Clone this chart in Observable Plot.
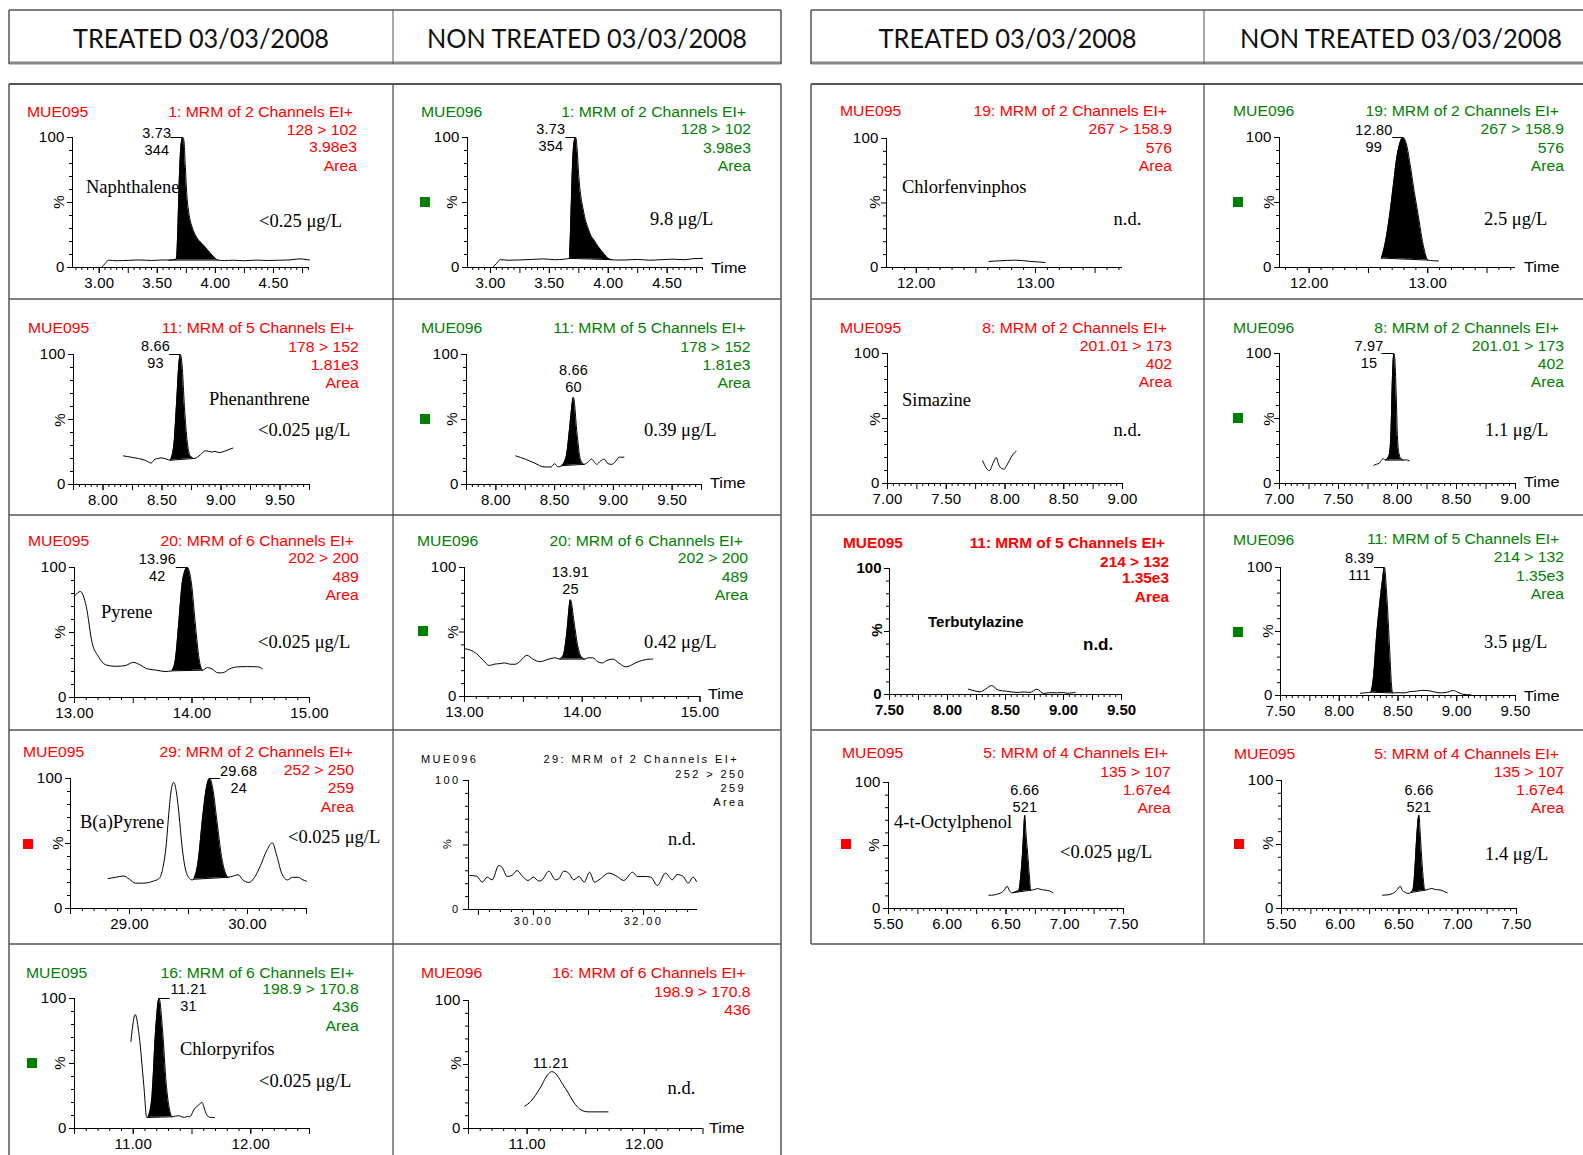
<!DOCTYPE html>
<html><head><meta charset="utf-8">
<script src="https://cdn.jsdelivr.net/npm/d3@7"></script>
<script src="https://cdn.jsdelivr.net/npm/@observablehq/plot@0.6"></script>
<style>
html,body{margin:0;padding:0;background:#fff;}
#page{position:relative;width:1583px;height:1155px;overflow:hidden;background:#fff;}
</style></head>
<body><div id="page"></div>
<script>
// ---------------- DATA ----------------
const headerTitles = ["TREATED 03/03/2008", "NON TREATED 03/03/2008", "TREATED 03/03/2008", "NON TREATED 03/03/2008"];
const compoundNames = ["Naphthalene","Phenanthrene","Pyrene","B(a)Pyrene","Chlorpyrifos","Chlorfenvinphos","Simazine","Terbutylazine","4-t-Octylphenol"];
const resultsTreated = ["<0.25 μg/L","<0.025 μg/L","<0.025 μg/L","<0.025 μg/L","<0.025 μg/L","n.d.","n.d.","n.d.","<0.025 μg/L"];
const resultsNonTreated = ["9.8 μg/L","0.39 μg/L","0.42 μg/L","n.d.","n.d.","2.5 μg/L","1.1 μg/L","3.5 μg/L","1.4 μg/L"];
const channelHeaders = [
  ["1: MRM of 2 Channels EI+","128 > 102","3.98e3","Area"],
  ["11: MRM of 5 Channels EI+","178 > 152","1.81e3","Area"],
  ["20: MRM of 6 Channels EI+","202 > 200","489","Area"],
  ["29: MRM of 2 Channels EI+","252 > 250","259","Area"],
  ["16: MRM of 6 Channels EI+","198.9 > 170.8","436","Area"],
  ["19: MRM of 2 Channels EI+","267 > 158.9","576","Area"],
  ["8: MRM of 2 Channels EI+","201.01 > 173","402","Area"],
  ["11: MRM of 5 Channels EI+","214 > 132","1.35e3","Area"],
  ["5: MRM of 4 Channels EI+","135 > 107","1.67e4","Area"]
];
const sampleIds = ["MUE095","MUE096"];

// tick labels (retention time, min)
const ticksNaph = [3.00,3.50,4.00,4.50];
const ticksPhen = [8.00,8.50,9.00,9.50];
const ticksPyr  = [13.00,14.00,15.00];
const ticksBaPT = [29.00,30.00];
const ticksBaPN = [30.00,32.00];
const ticksChlp = [11.00,12.00];
const ticksCfv  = [12.00,13.00];
const ticksSim  = [7.00,7.50,8.00,8.50,9.00];
const ticksTerb = [7.50,8.00,8.50,9.00,9.50];
const ticksOct  = [5.50,6.00,6.50,7.00,7.50];

// traces: [time, % intensity]
const naphT = [[3.02,0],[3.05,3],[3.08,5.6],[3.15,5.2],[3.25,5.5],[3.35,5.8],[3.45,5.4],[3.55,5.8],[3.60,5.7],[3.64,6.0],[3.665,6.5],[3.675,25],[3.69,70],[3.705,95],[3.72,100],[3.73,97],[3.74,80],[3.755,55],[3.775,40],[3.80,31],[3.84,23],[3.90,17],[3.957,11],[4.0,7],[4.02,5.7],[4.08,5.3],[4.15,5.6],[4.25,5.2],[4.35,5.7],[4.45,5.4],[4.55,5.6],[4.65,5.9],[4.72,6.6],[4.78,6.2],[4.81,5.8]];
const naphN = [[3.02,0],[3.05,3],[3.085,6],[3.15,5.6],[3.25,5.8],[3.35,6.2],[3.45,6.6],[3.55,6],[3.62,6.4],[3.67,7],[3.68,30],[3.695,75],[3.71,97],[3.725,100],[3.735,92],[3.75,70],[3.765,56],[3.78,48],[3.805,37],[3.83,30],[3.85,25],[3.88,21],[3.915,16],[3.96,11],[4.0,7],[4.03,6],[4.08,5.7],[4.15,5.8],[4.25,6.2],[4.35,5.6],[4.45,6.0],[4.55,6.4],[4.65,6.0],[4.72,6.8],[4.80,7.0]];
const phenT = [[8.173,22],[8.24,21],[8.301,20],[8.36,18.5],[8.408,16.5],[8.44,19.5],[8.464,20],[8.50,20.5],[8.536,19.5],[8.571,18.7],[8.60,30],[8.625,65],[8.645,95],[8.656,100],[8.67,92],[8.69,60],[8.715,32],[8.74,22],[8.771,20],[8.80,21],[8.827,23],[8.869,26],[8.921,25],[8.95,25.5],[8.984,24.5],[9.027,25.5],[9.07,27],[9.10,28]];
const phenN = [[8.17,22],[8.25,19.5],[8.33,16.5],[8.41,13.5],[8.47,13.5],[8.50,16],[8.53,13.5],[8.56,14.5],[8.60,22],[8.63,45],[8.66,67],[8.69,40],[8.72,19],[8.75,15.5],[8.78,17],[8.815,19.5],[8.84,17],[8.857,15.5],[8.89,18],[8.922,19.5],[8.955,16],[8.986,15.5],[9.02,18],[9.05,21],[9.09,21]];
const pyrT = [[13.00,78],[13.05,81.5],[13.10,70],[13.15,42],[13.20,32],[13.27,25],[13.35,24],[13.43,24.5],[13.50,27],[13.56,25],[13.62,22],[13.70,21],[13.77,20],[13.83,20.5],[13.86,30],[13.89,60],[13.92,90],[13.96,100],[13.995,88],[14.03,55],[14.06,30],[14.09,21],[14.13,23],[14.17,22],[14.22,19],[14.26,19],[14.32,22],[14.39,23.6],[14.47,23.8],[14.56,23.6],[14.60,22]];
const pyrN = [[13.00,37],[13.05,36],[13.105,33],[13.16,28],[13.21,24],[13.25,25],[13.30,25.5],[13.34,26],[13.39,25],[13.43,25],[13.48,28],[13.53,32],[13.58,29],[13.64,27],[13.70,28.5],[13.77,30],[13.81,29],[13.84,32],[13.87,50],[13.90,75],[13.93,58],[13.96,40],[13.99,31],[14.02,29],[14.05,30],[14.09,30],[14.13,27],[14.17,26],[14.21,28],[14.26,29],[14.31,26],[14.37,23],[14.41,24],[14.45,26],[14.51,28],[14.58,29],[14.60,29]];
const bapT = [[28.82,23],[28.88,24],[28.95,25],[29.00,22.5],[29.05,19.5],[29.12,19.5],[29.20,21],[29.25,23],[29.28,30],[29.31,48],[29.335,75],[29.355,92],[29.375,97],[29.40,88],[29.42,72],[29.445,48],[29.47,32],[29.50,24],[29.53,22],[29.545,22.5],[29.58,35],[29.62,70],[29.65,92],[29.68,100],[29.71,90],[29.74,68],[29.78,40],[29.81,28],[29.836,24],[29.88,25],[29.92,26],[29.96,22],[30.01,20],[30.06,24],[30.11,33],[30.16,44],[30.21,50.5],[30.25,40],[30.29,27],[30.34,22],[30.38,24],[30.43,24],[30.47,22],[30.50,21]];
const bapN = [[28.84,26.4],[28.97,25.8],[29.07,21.2],[29.16,25.1],[29.25,23],[29.37,34.1],[29.43,32.8],[29.52,25.6],[29.61,26.4],[29.70,30.2],[29.80,25.8],[29.90,22.5],[30.00,25.1],[30.10,22],[30.16,23],[30.28,29.7],[30.40,23],[30.46,23.8],[30.55,29.7],[30.64,28.2],[30.73,23],[30.83,25.6],[30.92,21.2],[31.02,28.9],[31.11,21.2],[31.19,23],[31.37,28.2],[31.52,25.6],[31.64,22.5],[31.80,28.9],[31.89,25.6],[32.01,25.6],[32.13,25.1],[32.25,18.6],[32.40,28.2],[32.52,23],[32.61,27.1],[32.72,25.6],[32.81,20.4],[32.90,25.1],[32.96,21.7]];
const chlpT = [[10.98,67],[11.017,87.6],[11.05,71.6],[11.09,33],[11.115,8.5],[11.125,8.5],[11.16,25],[11.19,75],[11.22,100],[11.25,75],[11.28,35],[11.31,14],[11.33,9],[11.36,9.5],[11.39,9.8],[11.415,9],[11.435,8.5],[11.46,9.3],[11.48,9],[11.52,15],[11.555,18],[11.585,20],[11.61,14],[11.63,9.8],[11.66,8.5],[11.69,8.5]];
const chlpN = [[10.98,17.6],[11.03,21],[11.07,25.8],[11.12,33],[11.16,40],[11.19,43.5],[11.21,44.4],[11.235,43.5],[11.26,41],[11.30,35],[11.35,28],[11.39,21.5],[11.43,16.8],[11.47,14],[11.52,13],[11.60,13],[11.69,13]];
const cfvT = [[12.61,4.7],[12.70,5.2],[12.83,5.7],[12.95,4.8],[13.08,3.9]];
const cfvN = [[12.61,7.2],[12.64,18],[12.68,41],[12.71,63],[12.74,85],[12.77,97],[12.79,100],[12.82,95],[12.85,80],[12.885,59],[12.92,40],[12.95,23],[12.975,12],[13.0,5.7],[13.05,5.2],[13.09,5]];
const simT = [[7.81,17.5],[7.84,12],[7.866,9.8],[7.90,16],[7.926,20],[7.945,15],[7.96,12.4],[7.993,11],[8.015,14],[8.036,17.5],[8.065,22],[8.095,24.7]];
const simN = [[7.80,14],[7.82,14.8],[7.845,15.5],[7.86,17.5],[7.88,19],[7.90,18],[7.93,22],[7.945,40],[7.955,75],[7.965,97],[7.97,100],[7.978,95],[7.99,65],[8.00,35],[8.015,22],[8.03,19],[8.05,18],[8.075,18.2],[8.10,17.5]];
const terbT = [[8.18,4.2],[8.23,3],[8.28,2.1],[8.33,4.5],[8.38,7.1],[8.44,3.4],[8.51,2.6],[8.60,1.6],[8.66,2],[8.71,1.6],[8.77,4.2],[8.83,0.8],[8.88,1.5],[8.94,1.3],[9.00,1.6],[9.03,1],[9.07,1.3],[9.10,1.8]];
const terbN = [[8.18,1.8],[8.23,2.2],[8.27,2.6],[8.29,13],[8.32,49],[8.345,72],[8.365,88],[8.385,100],[8.40,85],[8.41,70],[8.43,34],[8.445,8],[8.455,2],[8.50,2.2],[8.55,2],[8.60,3],[8.66,3.4],[8.70,4],[8.75,3.9],[8.80,3],[8.86,2],[8.92,2.6],[8.97,3.9],[9.01,2.5],[9.05,1],[9.12,0.5]];
const octT = [[6.354,10.5],[6.40,10.8],[6.44,11.8],[6.48,14],[6.51,17.6],[6.53,14],[6.55,12.4],[6.565,12.6],[6.59,13.5],[6.61,14.5],[6.625,25],[6.64,43],[6.65,60],[6.66,74],[6.67,60],[6.685,43],[6.70,25],[6.71,14.5],[6.74,15],[6.77,15.8],[6.80,15],[6.84,14.5],[6.87,14],[6.90,12.4]];
const octN = [[6.36,10.4],[6.40,10.6],[6.445,11.7],[6.48,14],[6.51,17.4],[6.53,14],[6.545,13],[6.575,11.7],[6.60,12.5],[6.62,15],[6.635,30],[6.65,54.5],[6.67,73],[6.68,60],[6.69,44],[6.705,25],[6.72,14.3],[6.75,15],[6.78,15.6],[6.81,14.8],[6.85,14.5],[6.88,13.5],[6.91,12.2]];

// peak annotations: [time, %, retention label, height label]
const naphTPeak = [3.72,100,"3.73","344"];
const naphNPeak = [3.725,100,"3.73","354"];
const phenTPeak = [8.656,100,"8.66","93"];
const phenNPeak = [8.66,67,"8.66","60"];
const pyrTPeak  = [13.96,100,"13.96","42"];
const pyrNPeak  = [13.90,75,"13.91","25"];
const bapTPeak  = [29.68,100,"29.68","24"];
const chlpTPeak = [11.22,100,"11.21","31"];
const chlpNPeak = [11.21,44.4,"11.21"];
const cfvNPeak  = [12.79,100,"12.80","99"];
const simNPeak  = [7.97,100,"7.97","15"];
const terbNPeak = [8.385,100,"8.39","111"];
const octTPeak  = [6.66,74,"6.66","521"];
const octNPeak  = [6.67,73,"6.66","521"];

// ---------------- LAYOUT ----------------
const RED = "#ff0000", GREEN = "#008000";
const SANS = "'Liberation Sans', Arial, sans-serif";
const SERIF = "'Liberation Serif', 'Times New Roman', serif";
const HEAD = "Lato, 'Open Sans', sans-serif";

const panels = [
 {box:[72,309,137,267], domain:[2.77,4.81], minor:0.05, major:0.25, labels:ticksNaph, trace:naphT, fill:[3.60,4.02], peak:naphTPeak, pdx:-26, pdy:17, lead:-12,
  sid:[sampleIds[0],27,117,RED], hdr:[channelHeaders[0],RED,353,357,[117,134.5,152.3,171]], cmp:[compoundNames[0],86,193], conc:[resultsTreated[0],259,227], pct:[59,202]},
 {box:[467,702,137,267], domain:[2.805,4.80], minor:0.05, major:0.25, labels:ticksNaph, trace:naphN, fill:[3.67,4.03], peak:naphNPeak, pdx:-25, pdy:13, lead:-10,
  sid:[sampleIds[1],421,117,GREEN], hdr:[channelHeaders[0],GREEN,746,751,[117,134.3,152.7,171]], conc:[resultsNonTreated[0],650,225], sq:[420,197,GREEN], time:[711,273], pct:[452,202]},
 {box:[886,1122,138,267], domain:[11.75,13.73], minor:0.1, major:0.5, labels:ticksCfv, trace:cfvT,
  sid:[sampleIds[0],840,116,RED], hdr:[channelHeaders[5],RED,1167,1172,[116,134.3,152.7,171]], cmp:[compoundNames[5],902,193], conc:[resultsTreated[5],1113.5,225], pct:[875,202]},
 {box:[1279,1515,137,267], domain:[11.75,13.74], minor:0.1, major:0.5, labels:ticksCfv, trace:cfvN, fill:[12.61,13.0], peak:cfvNPeak, pdx:-29, pdy:14, lead:-10,
  sid:[sampleIds[1],1233,116,GREEN], hdr:[channelHeaders[5],GREEN,1559,1564,[116,134.3,152.7,171]], conc:[resultsNonTreated[5],1484,225], sq:[1233,197,GREEN], time:[1524,272], pct:[1269,202]},

 {box:[73,309,354,484], domain:[7.75,9.75], minor:0.05, major:0.25, labels:ticksPhen, trace:phenT, fill:[8.571,8.771], peak:phenTPeak, pdx:-25, pdy:13, lead:-11,
  sid:[sampleIds[0],28,333,RED], hdr:[channelHeaders[1],RED,354,358.7,[333,351.7,370,388]], cmp:[compoundNames[1],209,405], conc:[resultsTreated[1],258,436], pct:[60,420]},
 {box:[466,701,354,484], domain:[7.75,9.75], minor:0.05, major:0.25, labels:ticksPhen, trace:phenN, fill:[8.56,8.75], peak:phenNPeak, pdx:0, pdy:-5, lead:0,
  sid:[sampleIds[1],421,333,GREEN], hdr:[channelHeaders[1],GREEN,745.6,750.6,[333,351.7,370,388]], conc:[resultsNonTreated[1],644,436], sq:[420,414,GREEN], time:[710,488], pct:[452,419]},
 {box:[887,1122,353,483], domain:[7.0,9.0], minor:0.05, major:0.25, labels:ticksSim, trace:simT,
  sid:[sampleIds[0],840,333,RED], hdr:[channelHeaders[6],RED,1167,1172,[333,351,368.7,387]], cmp:[compoundNames[6],902,406], conc:[resultsTreated[6],1113.5,436], pct:[875,419]},
 {box:[1279,1515,353,483], domain:[7.0,9.0], minor:0.05, major:0.25, labels:ticksSim, trace:simN, fill:[7.90,8.05], peak:simNPeak, pdx:-25, pdy:14, lead:-12,
  sid:[sampleIds[1],1233,333,GREEN], hdr:[channelHeaders[6],GREEN,1559,1564,[333,351,368.7,387]], conc:[resultsNonTreated[6],1485,436], sq:[1233,413,GREEN], time:[1524,487], pct:[1269,419]},

 {box:[74,309,567,697], domain:[13.0,15.0], minor:0.1, major:0.5, labels:ticksPyr, trace:pyrT, fill:[13.83,14.09], peak:pyrTPeak, pdx:-30, pdy:13, lead:-11,
  sid:[sampleIds[0],28,546,RED], hdr:[channelHeaders[2],RED,354,358.7,[545.7,563,581.7,600]], cmp:[compoundNames[2],101,618], conc:[resultsTreated[2],258,648], pct:[60,632]},
 {box:[463.5,699,567,696], domain:[13.0,15.0], minor:0.1, major:0.5, labels:ticksPyr, trace:pyrN, fill:[13.81,14.02], peak:pyrNPeak, pdx:0, pdy:-6, lead:0,
  sid:[sampleIds[1],417,546,GREEN], hdr:[channelHeaders[2],GREEN,743,748,[545.7,563,581.7,600]], conc:[resultsNonTreated[2],644,648], sq:[418,626,GREEN], time:[708,699], pct:[453,632]},
 {box:[889,1121,568,694], domain:[7.5,9.5], minor:0.05, major:0.25, labels:ticksTerb, trace:terbT, style:"bold",
  sid:[sampleIds[0],843,548,RED], hdr:[channelHeaders[7],RED,1165,1169,[548,567,583,602]], cmp:[compoundNames[7],928,627], conc:[resultsTreated[7],1083,650], pct:[877,630]},
 {box:[1280,1515,567,695], domain:[7.5,9.5], minor:0.05, major:0.25, labels:ticksTerb, trace:terbN, fill:[8.27,8.455], peak:terbNPeak, pdx:-25, pdy:12, lead:-10,
  sid:[sampleIds[1],1233,545,GREEN], hdr:[channelHeaders[7],GREEN,1559.3,1564,[544.3,562.3,581,599.3]], conc:[resultsNonTreated[7],1484,648], sq:[1233,627,GREEN], time:[1524,701], pct:[1268,631]},

 {box:[70,306,778,908], domain:[28.5,30.5], minor:0.1, major:0.5, labels:ticksBaPT, trace:bapT, fill:[29.545,29.836], peak:bapTPeak, pdx:29, pdy:14, lead:11,
  sid:[sampleIds[0],23,757,RED], hdr:[channelHeaders[3],RED,353,354,[756.7,775,793,811.7]], cmp:[compoundNames[3],80,828], conc:[resultsTreated[3],288,843], sq:[23,839,RED], pct:[58,843]},
 {box:[468,697,780,909], domain:[28.82,32.98], minor:0.2, major:1, labels:ticksBaPN, trace:bapN, style:"spaced",
  sid:[sampleIds[1],421,763,"black"], hdr:[channelHeaders[3],"black",739,746,[763,778,792,806]], conc:[resultsNonTreated[3],668,845], pct:[447,844]},
 {box:[888,1123,782,908], domain:[5.5,7.5], minor:0.05, major:0.25, labels:ticksOct, trace:octT, fill:[6.565,6.71], peak:octTPeak, pdx:0, pdy:-3, lead:0,
  sid:[sampleIds[0],842,758,RED], hdr:[channelHeaders[8],RED,1168,1170.7,[758.3,776.7,795,813.3]], cmp:[compoundNames[8],894,828], conc:[resultsTreated[8],1060,858], sq:[841,839,RED], pct:[874,845]},
 {box:[1281,1516,780,908], domain:[5.5,7.5], minor:0.05, major:0.25, labels:ticksOct, trace:octN, fill:[6.60,6.72], peak:octNPeak, pdx:0, pdy:-3, lead:0,
  sid:[sampleIds[0],1234,759,RED], hdr:[channelHeaders[8],RED,1559,1564,[759,777,795,813]], conc:[resultsNonTreated[8],1485,860], sq:[1234,839,RED], pct:[1268,843]},

 {box:[74,309,998,1128], domain:[10.5,12.5], minor:0.1, major:0.5, labels:ticksChlp, trace:chlpT, fill:[11.125,11.33], peak:chlpTPeak, pdx:29.5, pdy:12, lead:11,
  sid:[sampleIds[0],26,978,GREEN], hdr:[channelHeaders[4],GREEN,354,358.7,[978,994.3,1012.3,1031]], cmp:[compoundNames[4],180,1055], conc:[resultsTreated[4],259,1087], sq:[27,1058,GREEN], pct:[60,1063]},
 {box:[467.5,702,1000,1128], domain:[10.5,12.5], minor:0.1, major:0.5, labels:ticksChlp, trace:chlpN, peak:chlpNPeak, pdx:-1, pdy:-4, lead:0,
  sid:[sampleIds[1],421,978,RED], hdr:[channelHeaders[4].slice(0,3),RED,745.6,750.6,[978,997,1015]], conc:[resultsNonTreated[4],667.5,1094], time:[709,1133], pct:[456,1063]}
];

// ---------------- DRAW ----------------
const page = d3.select("#page");

function stepTicks(dom, s) {
  const i0 = Math.ceil(dom[0] / s - 1e-6), i1 = Math.floor(dom[1] / s + 1e-6);
  return d3.range(i0, i1 + 1).map(i => +(i * s).toFixed(4));
}

function drawPanel(p) {
  const [L, R, T, B] = p.box;
  const [d0, d1] = p.domain;
  const W = R - L, H = B - T, k = W / (d1 - d0);
  const mL = 48, mR = 8, mT = 10, mB = 34;
  const font = p.style === "bold" ? {size: 15, weight: "bold", ls: "normal", padX: 4}
             : p.style === "spaced" ? {size: 11, weight: "normal", ls: "2.4px", padX: 2}
             : {size: 15, weight: "normal", ls: "0.2px", padX: 3.5};
  const majors = stepTicks(p.domain, p.major);
  const minors = stepTicks(p.domain, p.minor).filter(v => Math.abs(v / p.major - Math.round(v / p.major)) > 1e-6);
  const none = () => "";
  const marks = [
    Plot.axisX(minors, {tickSize: 3, tickFormat: none, label: null}),
    Plot.axisX(majors, {tickSize: 6, tickFormat: none, label: null}),
    Plot.axisX(p.labels, {tickSize: 6, tickPadding: font.padX, tickFormat: d => d.toFixed(2), label: null}),
    Plot.axisY([10,20,30,40,60,70,80,90], {tickSize: 3, tickFormat: none, label: null}),
    Plot.axisY([50], {tickSize: 5, tickFormat: none, label: null}),
    Plot.axisY([0, 100], {tickSize: 5, tickPadding: 3, tickFormat: d => String(d), label: null}),
    Plot.ruleY([0], {stroke: "black", strokeWidth: 1}),
    Plot.ruleX([d0], {stroke: "black", strokeWidth: 1})
  ];
  const tr = p.trace;
  if (p.fill) {
    const [fa, fb] = p.fill;
    const pts = tr.filter(d => d[0] >= fa - 1e-9 && d[0] <= fb + 1e-9);
    const a = pts[0], b = pts[pts.length - 1];
    const fillPts = pts.map(d => [d[0], d[1], a[1] + (b[1] - a[1]) * (d[0] - a[0]) / (b[0] - a[0])]);
    marks.push(Plot.areaY(fillPts, {x: d => d[0], y1: d => d[2], y2: d => d[1], fill: "black", curve: "monotone-x"}));
    marks.push(Plot.line([a, b], {x: d => d[0], y: d => d[1], stroke: "black", strokeWidth: 1}));
  }
  marks.push(Plot.line(tr, {x: d => d[0], y: d => d[1], stroke: "black", strokeWidth: 1, curve: "monotone-x"}));
  if (p.peak) {
    if (p.lead) marks.push(Plot.ruleY([p.peak], {y: d => d[1], x1: d => d[0], x2: d => d[0] + p.lead / k, stroke: "black", strokeWidth: 1}));
    marks.push(Plot.text([p.peak], {x: d => d[0], y: d => d[1], text: d => d.slice(2).join("\n"),
      textAnchor: "middle", lineAnchor: "bottom", dx: p.pdx, dy: p.pdy, fontSize: 14.5, lineHeight: 17 / 14.5, fill: "black"}));
  }
  const svg = Plot.plot({
    width: W + mL + mR, height: H + mT + mB,
    marginLeft: mL, marginRight: mR, marginTop: mT, marginBottom: mB,
    x: {domain: p.domain}, y: {domain: [0, 100]},
    style: {fontFamily: SANS, fontSize: font.size + "px", fontWeight: font.weight, letterSpacing: font.ls,
            color: "black", background: "transparent", overflow: "visible", maxWidth: "none"},
    marks
  });
  page.append("div")
    .style("position", "absolute").style("left", (L - mL) + "px").style("top", (T - mT) + "px")
    .style("width", (W + mL + mR) + "px").style("height", (H + mT + mB) + "px")
    .node().appendChild(svg);
}

panels.forEach(drawPanel);

// overlay: borders, headers, annotation text
const ov = page.append("svg").attr("width", 1583).attr("height", 1155)
  .style("position", "absolute").style("left", "0px").style("top", "0px").style("pointer-events", "none");

function line(x1, y1, x2, y2, col, w) {
  ov.append("line").attr("x1", x1).attr("y1", y1).attr("x2", x2).attr("y2", y2)
    .attr("stroke", col).attr("stroke-width", w);
}
// header boxes
[[9, 781, 393], [811, 1590, 1204]].forEach(([a, b, m]) => {
  line(a, 10, b, 10, "#555", 1.5);
  line(a, 63, b, 63, "#888", 3);
  line(a, 10, a, 64, "#555", 1.5);
  line(b, 10, b, 64, "#555", 1.5);
  line(m, 10, m, 64, "#555", 1);
});
// tables
[84, 299, 515, 730, 944].forEach((y, i) => {
  line(9, y, 781, y, "#555", i === 0 ? 2 : 1.5);
  line(811, y, 1590, y, "#555", i === 0 ? 2 : 1.5);
});
line(9, 84, 9, 1160, "#555", 1.5); line(393, 84, 393, 1160, "#444", 1.2); line(781, 84, 781, 1160, "#555", 1.5);
line(811, 84, 811, 944, "#555", 1.5); line(1204, 84, 1204, 944, "#444", 1.2);

// header titles
const headCenters = [[201, 256], [587, 320], [1007.5, 258], [1401, 322]];
headerTitles.forEach((t, i) => {
  ov.append("text").attr("x", headCenters[i][0]).attr("y", 47.5).attr("text-anchor", "middle")
    .attr("font-family", HEAD).attr("font-size", 26.5).attr("fill", "#111")
    .attr("textLength", headCenters[i][1]).attr("lengthAdjust", "spacingAndGlyphs").text(t);
});

function sans(x, y, s, anchor, color, opt = {}) {
  const sx = opt.sx ?? 1.1;
  ov.append("text").attr("transform", `translate(${x},${y}) scale(${sx},1)`)
    .attr("text-anchor", anchor).attr("font-family", SANS).attr("font-size", opt.size ?? 14.3)
    .attr("font-weight", opt.weight ?? "normal").attr("letter-spacing", opt.ls ?? "normal")
    .attr("fill", color).text(s);
}
function serif(x, y, s) {
  ov.append("text").attr("x", x).attr("y", y).attr("font-family", SERIF).attr("font-size", 18.5)
    .attr("fill", "black").text(s);
}

panels.forEach(p => {
  const bold = p.style === "bold", spaced = p.style === "spaced";
  const o = spaced ? {size: 11, sx: 1, ls: "2.4px"} : bold ? {weight: "bold", size: 14} : {};
  sans(p.sid[1], p.sid[2], p.sid[0], "start", p.sid[3], o);
  const [lines, col, x1, x2, ys] = p.hdr;
  lines.forEach((s, i) => sans(i === 0 ? x1 : x2, ys[i], s, "end", col, o));
  if (p.cmp) {
    if (bold) sans(p.cmp[1], p.cmp[2], p.cmp[0], "start", "black", {weight: "bold", size: 15, sx: 1});
    else serif(p.cmp[1], p.cmp[2], p.cmp[0]);
  }
  if (p.conc) {
    if (bold) sans(p.conc[1], p.conc[2], p.conc[0], "start", "black", {weight: "bold", size: 17, sx: 1});
    else serif(p.conc[1], p.conc[2], p.conc[0]);
  }
  if (p.sq) ov.append("rect").attr("x", p.sq[0]).attr("y", p.sq[1]).attr("width", 10).attr("height", 10).attr("fill", p.sq[2]);
  if (p.time) sans(p.time[0], p.time[1], "Time", "start", "black", {size: 15.5, sx: 1.05});
  ov.append("text").attr("transform", `translate(${p.pct[0]},${p.pct[1]}) rotate(-90)`)
    .attr("text-anchor", "middle").attr("dy", "0.35em").attr("font-family", SANS)
    .attr("font-size", spaced ? 11 : 15).attr("font-weight", bold ? "bold" : "normal").attr("fill", "black").text("%");
});
</script>
</body></html>
